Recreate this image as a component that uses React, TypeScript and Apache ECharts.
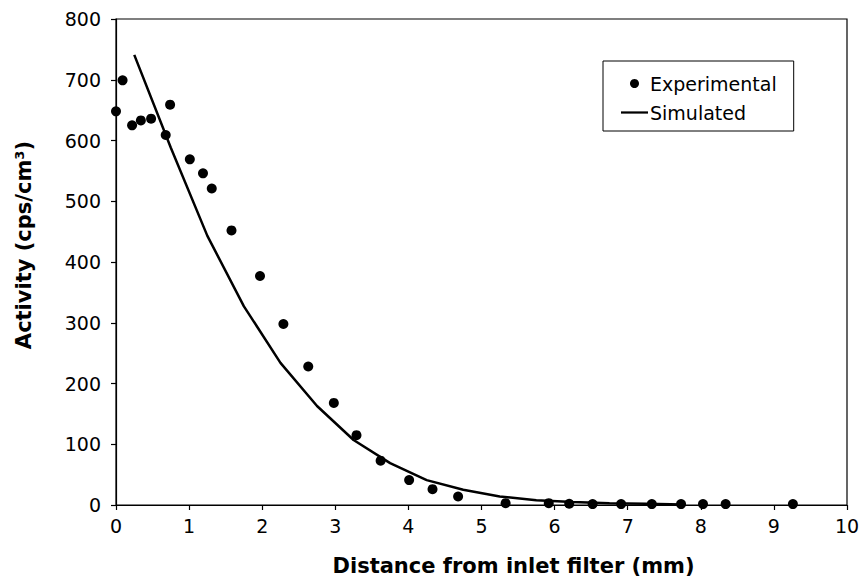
import React, { useEffect, useRef } from "react";
import * as echarts from "echarts";

const expX = [0, 0.09, 0.22, 0.34, 0.48, 0.68, 0.74, 1.01, 1.19, 1.31, 1.58, 1.97, 2.29, 2.63, 2.98, 3.29, 3.62, 4.01, 4.33, 4.68, 5.33, 5.92, 6.2, 6.52, 6.91, 7.33, 7.73, 8.03, 8.34, 9.26];
const expY = [648, 699, 625, 633, 636, 609, 659, 569, 546, 521, 452, 377, 298, 228, 168, 115, 73, 41, 26, 14, 3, 3, 2, 1.5, 1.5, 1.5, 1.5, 1.5, 1.5, 1.5];

const simX = [0.25, 0.75, 1.25, 1.75, 2.25, 2.75, 3.25, 3.75, 4.25, 4.75, 5.25, 5.75, 6.25, 6.75, 7.25, 7.75];
const simY = [741, 588, 443, 327, 234, 163, 107, 69, 41, 25, 14, 8, 5, 3, 2, 1];

const seriesNames = ["Experimental", "Simulated"];
const xTitle = "Distance from inlet filter (mm)";
const yTitle = "Activity (cps/cm³)";

const FONT = "DejaVu Sans";

export default function App() {
  const ref = useRef<HTMLDivElement>(null);
  useEffect(() => {
    if (!ref.current) return;
    const chart = echarts.init(ref.current, undefined, { renderer: "svg" });
    chart.setOption({
      animation: false,
      backgroundColor: "#fff",
      textStyle: { fontFamily: FONT, color: "#000" },
      grid: {
        left: 116,
        right: 17,
        top: 19,
        bottom: 75,
        show: true,
        borderColor: "#000",
        borderWidth: 1.2,
        containLabel: false,
      },
      legend: {
        orient: "vertical",
        left: 603,
        top: 61,
        padding: [13, 17, 9, 18],
        itemGap: 10,
        itemWidth: 27,
        itemHeight: 9,
        borderColor: "#000",
        borderWidth: 1,
        textStyle: { fontFamily: FONT, fontSize: 19, color: "#000", padding: [0, 0, 0, -3] },
        data: [
          { name: seriesNames[0], icon: "circle", itemStyle: { color: "#000", opacity: 1 } },
          { name: seriesNames[1], icon: "path://M0 0H36V3H0Z" },
        ],
      },
      xAxis: {
        type: "value",
        min: 0,
        max: 10,
        interval: 1,
        name: xTitle,
        nameLocation: "middle",
        nameGap: 50,
        nameTextStyle: { fontFamily: FONT, fontSize: 21, fontWeight: "bold", color: "#000", padding: [0, 0, 0, 64] },
        axisLine: { onZero: false, lineStyle: { color: "#000", width: 1.2 } },
        axisTick: { show: true, inside: false, length: 5, lineStyle: { color: "#000", width: 1.2 } },
        axisLabel: { fontFamily: FONT, fontSize: 19, color: "#000", margin: 11 },
        splitLine: { show: false },
      },
      yAxis: {
        type: "value",
        min: 0,
        max: 800,
        interval: 100,
        name: yTitle,
        nameLocation: "middle",
        nameGap: 82,
        nameRotate: 90,
        nameTextStyle: { fontFamily: FONT, fontSize: 21, fontWeight: "bold", color: "#000", padding: [0, 0, 0, 34] },
        axisLine: { show: true, lineStyle: { color: "#000", width: 1.2 } },
        axisTick: { show: true, inside: false, length: 5, lineStyle: { color: "#000", width: 1.2 } },
        axisLabel: { fontFamily: FONT, fontSize: 19, color: "#000", margin: 15 },
        splitLine: { show: false },
      },
      series: [
        {
          name: seriesNames[0],
          type: "scatter",
          symbol: "circle",
          symbolSize: 10,
          itemStyle: { color: "#000", opacity: 1 },
          data: expX.map((x, i) => [x, expY[i]]),
          z: 3,
        },
        {
          name: seriesNames[1],
          type: "line",
          showSymbol: false,
          symbol: "none",
          lineStyle: { color: "#000", width: 2.5 },
          itemStyle: { color: "#000" },
          data: simX.map((x, i) => [x, simY[i]]),
          z: 2,
        },
      ],
    });
    return () => chart.dispose();
  }, []);
  return (
    <div
      ref={ref}
      style={{ position: "fixed", left: 0, top: 0, width: 864, height: 581, background: "#fff" }}
    />
  );
}
